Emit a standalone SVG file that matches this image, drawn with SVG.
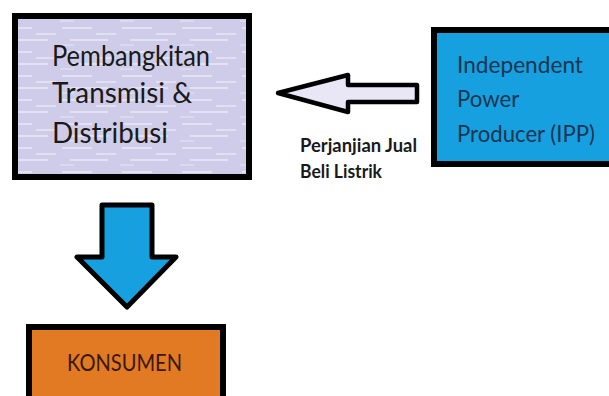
<svg xmlns="http://www.w3.org/2000/svg" width="609" height="396" viewBox="0 0 609 396">
<defs>
<pattern id="tex" width="60" height="24" patternUnits="userSpaceOnUse">
<rect width="60" height="24" fill="#cfcce9"/>
<rect x="2" y="3" width="30" height="2" fill="#e3e1f2"/>
<rect x="36" y="9" width="20" height="2" fill="#e1dff1"/>
<rect x="10" y="15" width="38" height="2" fill="#e3e1f2"/>
<rect x="0" y="20" width="14" height="2" fill="#dbd9ee"/>
</pattern>
</defs>
<style>
.box{stroke:#000;stroke-width:6}
.t{font-family:Lato,"Open Sans",sans-serif}
.arr{stroke:#000;stroke-linejoin:round}
</style>
<rect width="609" height="396" fill="#fff"/>
<g id="pembangkitan">
<rect class="box" x="15" y="16" width="234" height="161" fill="url(#tex)"/>
<text class="t" font-size="28" fill="#1a1a1a" lengthAdjust="spacingAndGlyphs">
<tspan x="52" y="66" textLength="158" lengthAdjust="spacingAndGlyphs">Pembangkitan</tspan>
<tspan x="52" y="103" textLength="140" lengthAdjust="spacingAndGlyphs">Transmisi &amp;</tspan>
<tspan x="52" y="143" textLength="116" lengthAdjust="spacingAndGlyphs">Distribusi</tspan>
</text>
</g>
<g id="ipp">
<rect class="box" x="434" y="30" width="180" height="134" fill="#17a0e0"/>
<text class="t" font-size="24" fill="#1b3550">
<tspan x="457" y="73" textLength="126" lengthAdjust="spacingAndGlyphs">Independent</tspan>
<tspan x="457" y="107" textLength="62" lengthAdjust="spacingAndGlyphs">Power</tspan>
<tspan x="457" y="142" textLength="138" lengthAdjust="spacingAndGlyphs">Producer (IPP)</tspan>
</text>
</g>
<g id="konsumen">
<rect class="box" x="29" y="327" width="194" height="80" fill="#e17a22"/>
<text class="t" font-size="24" fill="#3a1810" x="67" y="371" textLength="115" lengthAdjust="spacingAndGlyphs">KONSUMEN</text>
</g>
<g id="connectors">
<path class="arr" d="M278 93 L348 75 L348 85 L417 85 L417 102 L348 102 L348 112 Z" fill="#e9e7f5" stroke-width="4.5"/>
<path class="arr" d="M102 205 L152 205 L152 257 L176 257 L127 307 L77 257 L102 257 Z" fill="#17a0e0" stroke-width="5"/>
<text class="t" font-size="18" font-weight="bold" fill="#1a1a1a">
<tspan x="300" y="152" textLength="117" lengthAdjust="spacingAndGlyphs">Perjanjian Jual</tspan>
<tspan x="300" y="178" textLength="82" lengthAdjust="spacingAndGlyphs">Beli Listrik</tspan>
</text>
</g>
</svg>
